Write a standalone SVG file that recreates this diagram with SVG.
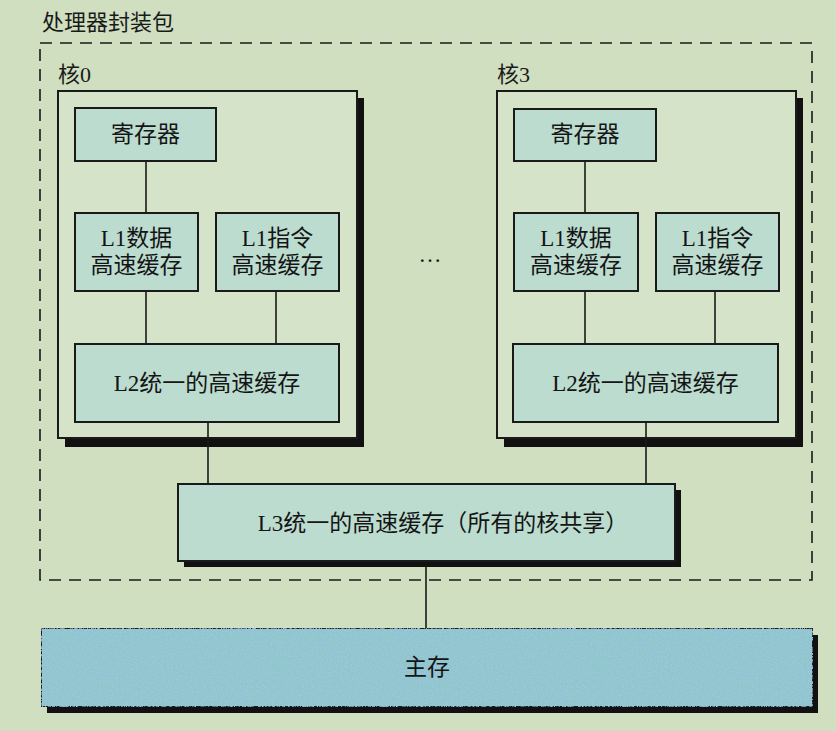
<svg xmlns="http://www.w3.org/2000/svg" width="836" height="731" viewBox="0 0 836 731">
  <defs>
    <style>
      .t { font-family: "Liberation Serif", "Noto Sans CJK SC", serif; font-size: 23px; fill: #151515; text-anchor: middle; }
      .lbl { font-family: "Liberation Serif", "Noto Sans CJK SC", serif; font-size: 22px; fill: #1a1a1a; }
      .box { fill: #bcdcd0; stroke: #1a1a1a; stroke-width: 2; }
      .core { fill: #d5e4c8; stroke: #1a1a1a; stroke-width: 2; }
      .shadow { fill: #111; }
      .wire { stroke: #1a1a1a; stroke-width: 1.6; fill: none; }
    </style>
    <filter id="speckle" x="0" y="0" width="100%" height="100%">
      <feTurbulence type="fractalNoise" baseFrequency="0.8" numOctaves="2" seed="3" result="n"/>
      <feColorMatrix in="n" type="matrix" values="0 0 0 0 0.35  0 0 0 0 0.55  0 0 0 0 0.85  3 0 0 0 -1.3" result="c"/>
      <feComposite in="c" in2="SourceGraphic" operator="in" result="m"/>
      <feMerge><feMergeNode in="SourceGraphic"/><feMergeNode in="m"/></feMerge>
    </filter>
  </defs>
  <rect x="0" y="0" width="836" height="731" fill="#cfdfbf"/>

  <text class="lbl" x="42" y="30">处理器封装包</text>
  <rect id="package" x="40" y="43" width="772" height="537" fill="none" stroke="#1a1a1a" stroke-width="1.6" stroke-dasharray="12 8"/>

  <g id="core0">
    <text class="lbl" x="58" y="82">核0</text>
    <rect class="shadow" x="65" y="98" width="299" height="349"/>
    <rect class="core" x="58" y="91" width="299" height="347"/>
  </g>
  <g id="core3">
    <text class="lbl" x="497" y="82">核3</text>
    <rect class="shadow" x="504" y="98" width="299" height="349"/>
    <rect class="core" x="497" y="91" width="299" height="347"/>
  </g>

  <g id="connectors">
    <line class="wire" x1="146" y1="161" x2="146" y2="213"/>
    <line class="wire" x1="146" y1="291" x2="146" y2="344"/>
    <line class="wire" x1="276" y1="291" x2="276" y2="344"/>
    <line class="wire" x1="208" y1="422" x2="208" y2="484"/>
    <line class="wire" x1="585" y1="161" x2="585" y2="213"/>
    <line class="wire" x1="585" y1="291" x2="585" y2="344"/>
    <line class="wire" x1="715" y1="291" x2="715" y2="344"/>
    <line class="wire" x1="646" y1="422" x2="646" y2="484"/>
    <line class="wire" x1="426" y1="561" x2="426" y2="628"/>
  </g>

  <g id="core0-reg">
    <rect class="box" x="75" y="108" width="141" height="53"/>
    <text class="t" x="145.5" y="142">寄存器</text>
  </g>
  <g id="core0-l1d">
    <rect class="box" x="75" y="213" width="123" height="78"/>
    <text class="t" x="136.5" y="246">L1数据</text>
    <text class="t" x="136.5" y="273">高速缓存</text>
  </g>
  <g id="core0-l1i">
    <rect class="box" x="216" y="213" width="123" height="78"/>
    <text class="t" x="277.5" y="246">L1指令</text>
    <text class="t" x="277.5" y="273">高速缓存</text>
  </g>
  <g id="core0-l2">
    <rect class="box" x="75" y="344" width="264" height="78"/>
    <text class="t" x="207" y="391">L2统一的高速缓存</text>
  </g>

  <g id="ellipsis">
    <text class="t" x="430" y="262">…</text>
  </g>

  <g id="core3-reg">
    <rect class="box" x="514" y="109" width="142" height="52"/>
    <text class="t" x="585" y="142">寄存器</text>
  </g>
  <g id="core3-l1d">
    <rect class="box" x="514" y="213" width="124" height="78"/>
    <text class="t" x="576" y="246">L1数据</text>
    <text class="t" x="576" y="273">高速缓存</text>
  </g>
  <g id="core3-l1i">
    <rect class="box" x="656" y="213" width="123" height="78"/>
    <text class="t" x="717.5" y="246">L1指令</text>
    <text class="t" x="717.5" y="273">高速缓存</text>
  </g>
  <g id="core3-l2">
    <rect class="box" x="513" y="344" width="265" height="78"/>
    <text class="t" x="645.5" y="391">L2统一的高速缓存</text>
  </g>

  <g id="l3">
    <rect class="shadow" x="184" y="490" width="497" height="77"/>
    <rect class="box" x="178" y="484" width="497" height="77"/>
    <text class="t" x="443" y="531">L3统一的高速缓存（所有的核共享）</text>
  </g>

  <g id="main-memory">
    <rect class="shadow" x="47" y="635" width="771" height="78"/>
    <rect x="41" y="628" width="772" height="79" fill="#8ec7c6" stroke="#1a1a1a" stroke-width="2" filter="url(#speckle)"/>
    <text class="t" x="427" y="675">主存</text>
  </g>
</svg>
